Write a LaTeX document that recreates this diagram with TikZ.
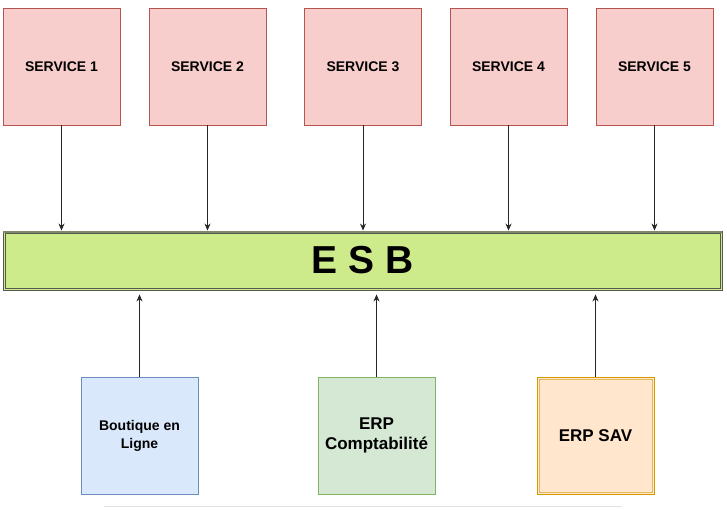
\documentclass[tikz,border=0pt]{standalone}
\usepackage{fontspec}
\setmainfont{Liberation Sans}
\usetikzlibrary{arrows.meta,calc}
\definecolor{redfill}{HTML}{F8CECC}
\definecolor{redline}{HTML}{B85450}
\definecolor{bluefill}{HTML}{DAE8FC}
\definecolor{blueline}{HTML}{6C8EBF}
\definecolor{greenfill}{HTML}{D5E8D4}
\definecolor{greenline}{HTML}{82B366}
\definecolor{orangefill}{HTML}{FFE6CC}
\definecolor{orangeline}{HTML}{D79B00}
\definecolor{orangeinner}{HTML}{E8B85A}
\definecolor{esbfill}{HTML}{CDEB8B}
\definecolor{esbline}{HTML}{55594F}
\definecolor{esbtop}{HTML}{7E8A6A}
\definecolor{sepline}{HTML}{E2E2E2}
\begin{document}
\begin{tikzpicture}[x=1pt,y=-1pt,
  box/.style={minimum width=117pt, minimum height=117pt, inner sep=0pt, line width=0.9pt, align=center},
  svc/.style={box, draw=redline, fill=redfill, font=\bfseries\fontsize{14}{16}\selectfont},
  client/.style={box, font=\bfseries\fontsize{14}{18}\selectfont},
  bigclient/.style={box, font=\bfseries\fontsize{17}{20}\selectfont},
  conn/.style={draw=black!85, line width=0.8pt, -{Stealth[length=7pt,width=6pt]}},
  busbox/.style={draw=esbline, line width=0.9pt, fill=esbfill,
    minimum width=719pt, minimum height=59pt, inner sep=0pt, font=\bfseries\fontsize{39}{44}\selectfont}
]
\useasboundingbox (0,0) rectangle (727,510);

% services
\node[svc] (s1) at (61.5,66.5) {SERVICE 1};
\node[svc] (s2) at (207.5,66.5) {SERVICE 2};
\node[svc] (s3) at (363,66.5) {SERVICE 3};
\node[svc] (s4) at (508.5,66.5) {SERVICE 4};
\node[svc] (s5) at (654.5,66.5) {SERVICE 5};

% bus
\node[busbox] (esb) at (362.5,260.5) {E S B};
\draw[esbline, line width=0.9pt] ($(esb.north west)+(2.5,2.5)$) rectangle ($(esb.south east)+(-2.5,-2.5)$);
\draw[esbtop, line width=1.6pt] ($(esb.north west)+(0.5,1.2)$) -- ($(esb.north east)+(-0.5,1.2)$);

% clients
\node[client, draw=blueline, fill=bluefill] (b1) at (139.5,435.5) {Boutique en\\Ligne};
\node[bigclient, draw=greenline, fill=greenfill] (b2) at (376.5,435.5) {ERP\\Comptabilité};
\node[bigclient, draw=orangeline, fill=orangefill] (b3) at (595.5,435.5) {ERP SAV};
\draw[orangeinner, line width=0.9pt] ($(b3.north west)+(2.5,2.5)$) rectangle ($(b3.south east)+(-2.5,-2.5)$);

% connectors down
\foreach \s in {s1,s2,s3,s4,s5}{
  \draw[conn] (\s) -- (\s |- esb.north);
}
% connectors up
\foreach \b in {b1,b2,b3}{
  \coordinate (\b e) at ($(\b |- esb.south)+(0,4)$);
  \draw[conn] (\b) -- (\b e);
}

% separator line
\coordinate (lineL) at (104,506);
\coordinate (lineR) at (622,506);
\draw[sepline, line width=1pt] (lineL) -- (lineR);
\end{tikzpicture}
\end{document}
